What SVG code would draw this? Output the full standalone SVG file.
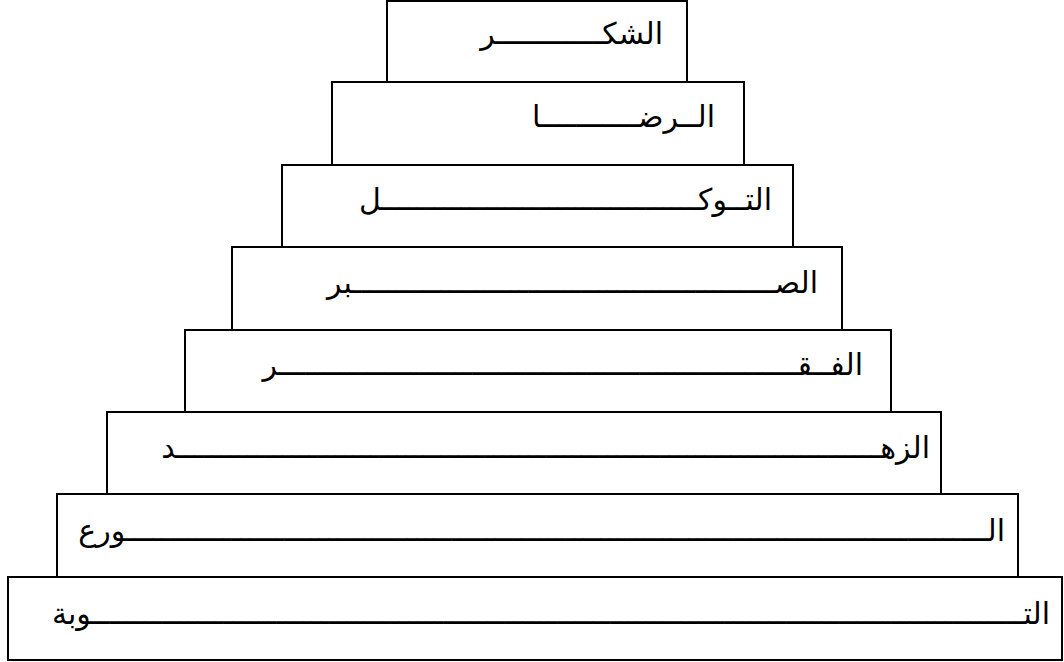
<svg xmlns="http://www.w3.org/2000/svg" width="1064" height="662" viewBox="0 0 1064 662">
<style>
.box{fill:#fff;stroke:#000;stroke-width:2}
.t{font-family:"Liberation Serif","DejaVu Sans",serif;font-size:30px;fill:#000;direction:rtl;text-anchor:start}
</style>
<rect width="1064" height="662" fill="#fff"/>
<g id="n8"><rect class="box" x="8" y="577" width="1054" height="83"/><text class="t" x="1050" y="624">الت&#x640;&#x640;&#x640;&#x640;&#x640;&#x640;&#x640;&#x640;&#x640;&#x640;&#x640;&#x640;&#x640;&#x640;&#x640;&#x640;&#x640;&#x640;&#x640;&#x640;&#x640;&#x640;&#x640;&#x640;&#x640;&#x640;&#x640;&#x640;&#x640;&#x640;&#x640;&#x640;&#x640;&#x640;&#x640;&#x640;&#x640;&#x640;&#x640;&#x640;&#x640;&#x640;&#x640;&#x640;&#x640;&#x640;&#x640;&#x640;&#x640;&#x640;&#x640;&#x640;&#x640;&#x640;&#x640;&#x640;&#x640;&#x640;&#x640;&#x640;&#x640;&#x640;&#x640;&#x640;&#x640;&#x640;&#x640;&#x640;&#x640;&#x640;&#x640;&#x640;&#x640;&#x640;&#x640;&#x640;&#x640;&#x640;&#x640;&#x640;&#x640;&#x640;&#x640;&#x640;&#x640;&#x640;&#x640;&#x640;&#x640;&#x640;&#x640;&#x640;&#x640;&#x640;&#x640;&#x640;&#x640;&#x640;&#x640;&#x640;&#x640;&#x640;&#x640;&#x640;&#x640;&#x640;وبة</text></g>
<g id="n7"><rect class="box" x="57" y="494" width="961" height="83"/><text class="t" x="1005" y="541">ال&#x640;&#x640;&#x640;&#x640;&#x640;&#x640;&#x640;&#x640;&#x640;&#x640;&#x640;&#x640;&#x640;&#x640;&#x640;&#x640;&#x640;&#x640;&#x640;&#x640;&#x640;&#x640;&#x640;&#x640;&#x640;&#x640;&#x640;&#x640;&#x640;&#x640;&#x640;&#x640;&#x640;&#x640;&#x640;&#x640;&#x640;&#x640;&#x640;&#x640;&#x640;&#x640;&#x640;&#x640;&#x640;&#x640;&#x640;&#x640;&#x640;&#x640;&#x640;&#x640;&#x640;&#x640;&#x640;&#x640;&#x640;&#x640;&#x640;&#x640;&#x640;&#x640;&#x640;&#x640;&#x640;&#x640;&#x640;&#x640;&#x640;&#x640;&#x640;&#x640;&#x640;&#x640;&#x640;&#x640;&#x640;&#x640;&#x640;&#x640;&#x640;&#x640;&#x640;&#x640;&#x640;&#x640;&#x640;&#x640;&#x640;&#x640;&#x640;&#x640;&#x640;&#x640;&#x640;&#x640;&#x640;&#x640;ورع</text></g>
<g id="n6"><rect class="box" x="107" y="412" width="834" height="82"/><text class="t" x="930" y="458">الزه&#x640;&#x640;&#x640;&#x640;&#x640;&#x640;&#x640;&#x640;&#x640;&#x640;&#x640;&#x640;&#x640;&#x640;&#x640;&#x640;&#x640;&#x640;&#x640;&#x640;&#x640;&#x640;&#x640;&#x640;&#x640;&#x640;&#x640;&#x640;&#x640;&#x640;&#x640;&#x640;&#x640;&#x640;&#x640;&#x640;&#x640;&#x640;&#x640;&#x640;&#x640;&#x640;&#x640;&#x640;&#x640;&#x640;&#x640;&#x640;&#x640;&#x640;&#x640;&#x640;&#x640;&#x640;&#x640;&#x640;&#x640;&#x640;&#x640;&#x640;&#x640;&#x640;&#x640;&#x640;&#x640;&#x640;&#x640;&#x640;&#x640;&#x640;&#x640;&#x640;&#x640;&#x640;&#x640;&#x640;&#x640;&#x640;&#x640;&#x640;د</text></g>
<g id="n5"><rect class="box" x="185" y="330" width="706" height="82"/><text class="t" x="863" y="375">الف&#x640;&#x640;ق&#x640;&#x640;&#x640;&#x640;&#x640;&#x640;&#x640;&#x640;&#x640;&#x640;&#x640;&#x640;&#x640;&#x640;&#x640;&#x640;&#x640;&#x640;&#x640;&#x640;&#x640;&#x640;&#x640;&#x640;&#x640;&#x640;&#x640;&#x640;&#x640;&#x640;&#x640;&#x640;&#x640;&#x640;&#x640;&#x640;&#x640;&#x640;&#x640;&#x640;&#x640;&#x640;&#x640;&#x640;&#x640;&#x640;&#x640;&#x640;&#x640;&#x640;&#x640;&#x640;&#x640;&#x640;&#x640;&#x640;&#x640;&#x640;&#x640;ر</text></g>
<g id="n4"><rect class="box" x="232" y="247" width="610" height="83"/><text class="t" x="818" y="293">الص&#x640;&#x640;&#x640;&#x640;&#x640;&#x640;&#x640;&#x640;&#x640;&#x640;&#x640;&#x640;&#x640;&#x640;&#x640;&#x640;&#x640;&#x640;&#x640;&#x640;&#x640;&#x640;&#x640;&#x640;&#x640;&#x640;&#x640;&#x640;&#x640;&#x640;&#x640;&#x640;&#x640;&#x640;&#x640;&#x640;&#x640;&#x640;&#x640;&#x640;&#x640;&#x640;&#x640;&#x640;&#x640;&#x640;&#x640;&#x640;بر</text></g>
<g id="n3"><rect class="box" x="282" y="165" width="511" height="82"/><text class="t" x="772" y="210">الت&#x640;&#x640;وك&#x640;&#x640;&#x640;&#x640;&#x640;&#x640;&#x640;&#x640;&#x640;&#x640;&#x640;&#x640;&#x640;&#x640;&#x640;&#x640;&#x640;&#x640;&#x640;&#x640;&#x640;&#x640;&#x640;&#x640;&#x640;&#x640;&#x640;&#x640;&#x640;&#x640;&#x640;&#x640;&#x640;&#x640;&#x640;&#x640;ل</text></g>
<g id="n2"><rect class="box" x="332" y="82" width="412" height="83"/><text class="t" x="715" y="127">ال&#x640;&#x640;رض&#x640;&#x640;&#x640;&#x640;&#x640;&#x640;&#x640;&#x640;&#x640;&#x640;&#x640;ا</text></g>
<g id="n1"><rect class="box" x="387" y="1" width="300" height="81"/><text class="t" x="663" y="44">الشك&#x640;&#x640;&#x640;&#x640;&#x640;&#x640;&#x640;&#x640;&#x640;&#x640;&#x640;&#x640;ر</text></g>
<g id="connectors"></g>
</svg>
